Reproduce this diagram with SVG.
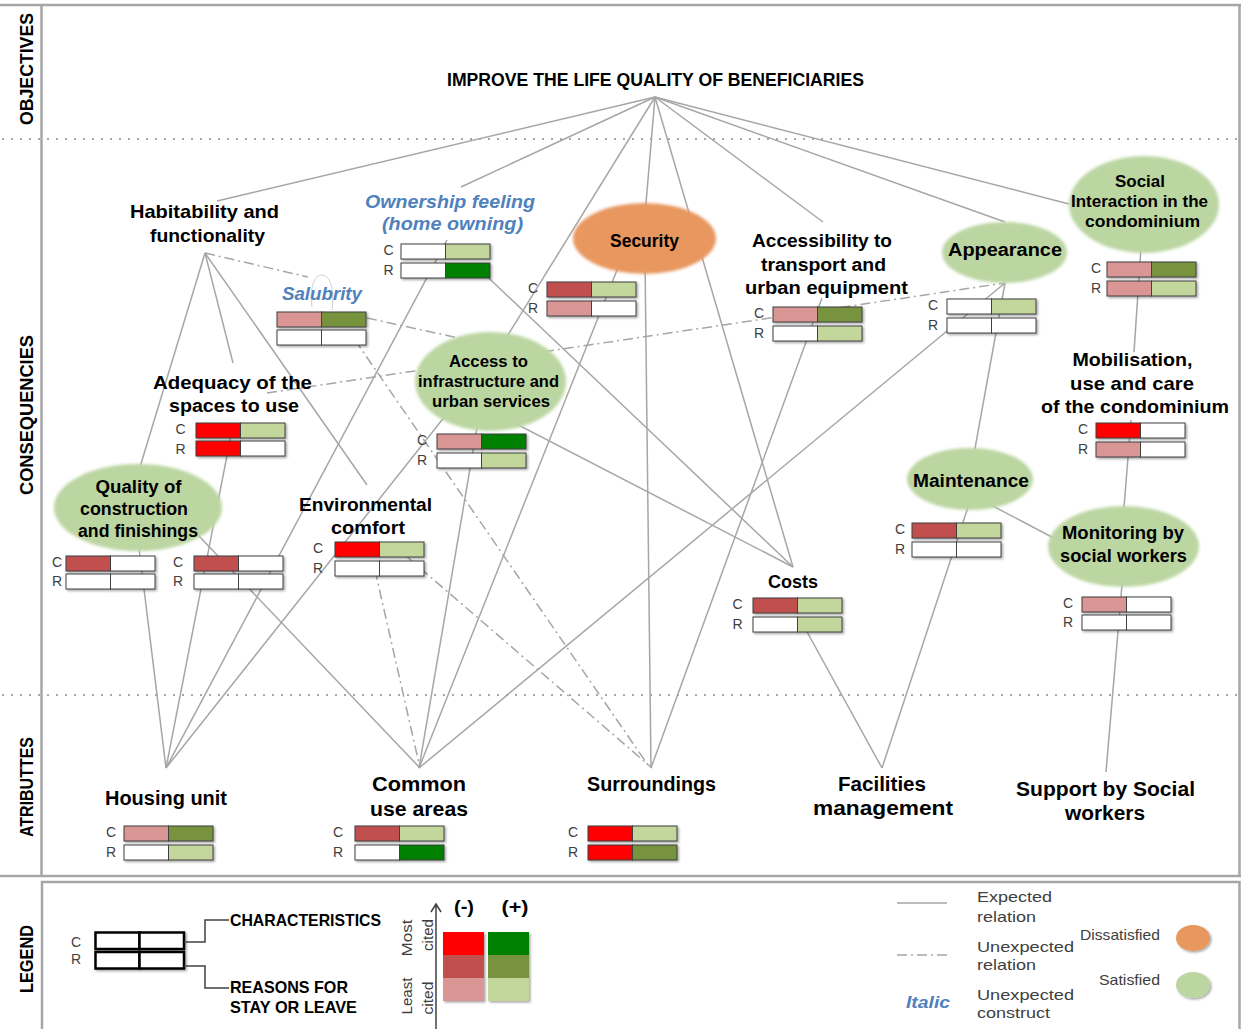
<svg xmlns="http://www.w3.org/2000/svg" width="1241" height="1029" viewBox="0 0 1241 1029">
<defs>
<style>
.fr{stroke:#a6a6a6;stroke-width:2.5;fill:none}
.dot{stroke:#a6a6a6;stroke-width:2;stroke-dasharray:2 7;fill:none}
.ln{stroke:#a6a6a6;stroke-width:1.5;fill:none}
.dd{stroke:#a6a6a6;stroke-width:1.5;fill:none;stroke-dasharray:10 4 2 4}
.t{font-family:"Liberation Sans",Arial,sans-serif;font-weight:bold;fill:#000;text-anchor:middle}
.it{font-style:italic;fill:#4f81bd}
.sec{font-family:"Liberation Sans",Arial,sans-serif;font-weight:bold;fill:#000;text-anchor:middle;font-size:18px}
.cr{font-family:"Liberation Sans",Arial,sans-serif;font-size:14px;fill:#404040;text-anchor:middle}
.lg-t{font-family:"Liberation Sans",Arial,sans-serif;font-size:15px;fill:#404040}
.c{stroke:#3f3f3f;stroke-width:1}
.r{fill:#ff0000}.dr{fill:#c0504d}.pk{fill:#d99694}.dg{fill:#008000}.ol{fill:#77933c}.lg{fill:#c3d69b}.w{fill:#ffffff}
.eg{fill:#bcd6a2}.eo{fill:#e8975f}
.lb{stroke:#000;stroke-width:2.5;fill:#fff}
.br{stroke:#404040;stroke-width:1.5;fill:none}
</style>
<filter id="sh" x="-10%" y="-20%" width="130%" height="170%"><feDropShadow dx="1.5" dy="1.5" stdDeviation="1" flood-color="#000" flood-opacity="0.35"/></filter>
<filter id="soft" x="-10%" y="-10%" width="120%" height="120%"><feGaussianBlur stdDeviation="1.6"/></filter>
</defs>
<rect width="1241" height="1029" fill="#fff"/>

<g id="frame">
<line class="fr" x1="0" y1="5" x2="1241" y2="5"/>
<line class="fr" x1="0" y1="876" x2="1241" y2="876"/>
<line class="fr" x1="1239.5" y1="5" x2="1239.5" y2="876"/>
<line class="fr" x1="41.5" y1="5" x2="41.5" y2="876"/>
<rect class="fr" x="42" y="882" width="1197.5" height="160"/>
<line class="dot" x1="2" y1="139" x2="1241" y2="139"/>
<line class="dot" x1="2" y1="695" x2="1241" y2="695"/>
<text class="sec" transform="translate(33,69) rotate(-90)" textLength="112" lengthAdjust="spacingAndGlyphs">OBJECTIVES</text>
<text class="sec" transform="translate(33,415) rotate(-90)" textLength="160" lengthAdjust="spacingAndGlyphs">CONSEQUENCIES</text>
<text class="sec" font-size="16" transform="translate(33,787) rotate(-90)" textLength="100" lengthAdjust="spacingAndGlyphs">ATRIBUTTES</text>
<text class="sec" font-size="17" transform="translate(33,959) rotate(-90)" textLength="68" lengthAdjust="spacingAndGlyphs">LEGEND</text>
</g>

<g id="connectors">
<line class="ln" x1="655" y1="97" x2="217" y2="201"/>
<line class="ln" x1="655" y1="97" x2="461" y2="187"/>
<line class="ln" x1="655" y1="97" x2="503" y2="343"/>
<line class="ln" x1="655" y1="97" x2="645" y2="215"/>
<line class="ln" x1="655" y1="97" x2="793" y2="567"/>
<line class="ln" x1="655" y1="97" x2="823" y2="222"/>
<line class="ln" x1="655" y1="97" x2="1005" y2="222"/>
<line class="ln" x1="655" y1="97" x2="1069" y2="204"/>
<line class="ln" x1="205" y1="253" x2="140" y2="467"/>
<line class="ln" x1="205" y1="253" x2="233" y2="363"/>
<line class="ln" x1="205" y1="253" x2="367" y2="485"/>
<line class="ln" x1="447" y1="240" x2="166" y2="768"/>
<line class="ln" x1="475" y1="265" x2="793" y2="567"/>
<line class="ln" x1="503" y1="343" x2="166" y2="768"/>
<line class="ln" x1="480" y1="410" x2="419" y2="768"/>
<line class="ln" x1="505" y1="418" x2="793" y2="567"/>
<line class="ln" x1="645" y1="260" x2="651" y2="768"/>
<line class="ln" x1="625" y1="250" x2="419" y2="768"/>
<line class="ln" x1="822" y1="298" x2="651" y2="768"/>
<line class="ln" x1="1005" y1="283" x2="419" y2="768"/>
<line class="ln" x1="1005" y1="283" x2="972" y2="465"/>
<line class="ln" x1="1142" y1="233" x2="1134" y2="352"/>
<line class="ln" x1="1131" y1="420" x2="1123" y2="520"/>
<line class="ln" x1="972" y1="495" x2="1063" y2="543"/>
<line class="ln" x1="972" y1="495" x2="882" y2="768"/>
<line class="ln" x1="806" y1="630" x2="882" y2="768"/>
<line class="ln" x1="1123" y1="573" x2="1106" y2="772"/>
<line class="ln" x1="232" y1="430" x2="166" y2="768"/>
<line class="ln" x1="138" y1="540" x2="166" y2="768"/>
<line class="ln" x1="198" y1="535" x2="420" y2="768"/>
<line class="dd" x1="205" y1="253" x2="308" y2="277"/>
<path fill="none" stroke="#cfcfcf" stroke-width="1" d="M312,307 C309,287 315,275 322,275 C329,275 335,287 332,310"/>
<line class="dd" x1="367" y1="318" x2="477" y2="342"/>
<line class="dd" x1="267" y1="393" x2="1005" y2="283"/>
<line class="dd" x1="355" y1="340" x2="650" y2="768"/>
<line class="dd" x1="375" y1="570" x2="420" y2="768"/>
<line class="dd" x1="405" y1="555" x2="652" y2="768"/>
</g>

<g id="n-title">
<text class="t" x="655.5" y="86" font-size="18" textLength="417" lengthAdjust="spacingAndGlyphs">IMPROVE THE LIFE QUALITY OF BENEFICIARIES</text>
</g>

<g id="n-habitability">
<text class="t" x="204.5" y="218" font-size="18.5" textLength="149" lengthAdjust="spacingAndGlyphs">Habitability and</text>
<text class="t" x="207.5" y="242" font-size="18.5" textLength="115" lengthAdjust="spacingAndGlyphs">functionality</text>
</g>

<g id="n-ownership">
<text class="t it" x="450" y="208" font-size="18.5" textLength="170" lengthAdjust="spacingAndGlyphs">Ownership feeling</text>
<text class="t it" x="452.5" y="230" font-size="18.5" textLength="141" lengthAdjust="spacingAndGlyphs">(home owning)</text>
<g transform="translate(401,244)"><g filter="url(#sh)"><rect class="c w" width="44.5" height="15"/><rect class="c lg" x="44.5" width="44.5" height="15"/><rect class="c w" y="19" width="44.5" height="15"/><rect class="c dg" x="44.5" y="19" width="44.5" height="15"/></g><text class="cr" x="-12.5" y="11">C</text><text class="cr" x="-12.5" y="31">R</text></g>
</g>

<g id="n-salubrity">
<text class="t it" x="322" y="300" font-size="18.5" textLength="80" lengthAdjust="spacingAndGlyphs">Salubrity</text>
<g transform="translate(277,312)"><g filter="url(#sh)"><rect class="c pk" width="44.5" height="15"/><rect class="c ol" x="44.5" width="44.5" height="15"/><rect class="c w" y="18" width="44.5" height="15"/><rect class="c w" x="44.5" y="18" width="44.5" height="15"/></g></g>
</g>

<g id="n-security">
<ellipse class="eo" cx="644.5" cy="238.5" rx="71.5" ry="35.5" filter="url(#soft)"/>
<text class="t" x="644.5" y="247" font-size="18.5" textLength="69" lengthAdjust="spacingAndGlyphs">Security</text>
<g transform="translate(547,282)"><g filter="url(#sh)"><rect class="c dr" width="44.5" height="15"/><rect class="c lg" x="44.5" width="44.5" height="15"/><rect class="c pk" y="19" width="44.5" height="15"/><rect class="c w" x="44.5" y="19" width="44.5" height="15"/></g><text class="cr" x="-14" y="11">C</text><text class="cr" x="-14" y="31">R</text></g>
</g>

<g id="n-accessibility">
<text class="t" x="822" y="247" font-size="17.5" textLength="140" lengthAdjust="spacingAndGlyphs">Accessibility to</text>
<text class="t" x="823.5" y="271" font-size="17.5" textLength="125" lengthAdjust="spacingAndGlyphs">transport and</text>
<text class="t" x="826.5" y="294" font-size="17.5" textLength="163" lengthAdjust="spacingAndGlyphs">urban equipment</text>
<g transform="translate(773,307)"><g filter="url(#sh)"><rect class="c pk" width="44.5" height="15"/><rect class="c ol" x="44.5" width="44.5" height="15"/><rect class="c w" y="19" width="44.5" height="15"/><rect class="c lg" x="44.5" y="19" width="44.5" height="15"/></g><text class="cr" x="-14" y="11">C</text><text class="cr" x="-14" y="31">R</text></g>
</g>

<g id="n-appearance">
<ellipse class="eg" cx="1004.5" cy="252.5" rx="62.5" ry="30.5" filter="url(#soft)"/>
<text class="t" x="1005" y="256" font-size="17.5" textLength="114" lengthAdjust="spacingAndGlyphs">Appearance</text>
<g transform="translate(947,299)"><g filter="url(#sh)"><rect class="c w" width="44.5" height="15"/><rect class="c lg" x="44.5" width="44.5" height="15"/><rect class="c w" y="19" width="44.5" height="15"/><rect class="c w" x="44.5" y="19" width="44.5" height="15"/></g><text class="cr" x="-14" y="11">C</text><text class="cr" x="-14" y="31">R</text></g>
</g>

<g id="n-social">
<ellipse class="eg" cx="1144" cy="204.5" rx="75" ry="48.5" filter="url(#soft)"/>
<text class="t" x="1140" y="187" font-size="17" textLength="50" lengthAdjust="spacingAndGlyphs">Social</text>
<text class="t" x="1139.5" y="207" font-size="17" textLength="137" lengthAdjust="spacingAndGlyphs">Interaction in the</text>
<text class="t" x="1142.5" y="227" font-size="17" textLength="115" lengthAdjust="spacingAndGlyphs">condominium</text>
<g transform="translate(1107,262)"><g filter="url(#sh)"><rect class="c pk" width="44.5" height="15"/><rect class="c ol" x="44.5" width="44.5" height="15"/><rect class="c pk" y="19" width="44.5" height="15"/><rect class="c lg" x="44.5" y="19" width="44.5" height="15"/></g><text class="cr" x="-11" y="11">C</text><text class="cr" x="-11" y="31">R</text></g>
</g>

<g id="n-mobilisation">
<text class="t" x="1132.5" y="366" font-size="19" textLength="120" lengthAdjust="spacingAndGlyphs">Mobilisation,</text>
<text class="t" x="1132" y="390" font-size="19" textLength="124" lengthAdjust="spacingAndGlyphs">use and care</text>
<text class="t" x="1135" y="413" font-size="19" textLength="188" lengthAdjust="spacingAndGlyphs">of the condominium</text>
<g transform="translate(1096,423)"><g filter="url(#sh)"><rect class="c r" width="44.5" height="15"/><rect class="c w" x="44.5" width="44.5" height="15"/><rect class="c pk" y="19" width="44.5" height="15"/><rect class="c w" x="44.5" y="19" width="44.5" height="15"/></g><text class="cr" x="-13" y="11">C</text><text class="cr" x="-13" y="31">R</text></g>
</g>

<g id="n-access">
<ellipse class="eg" cx="490.5" cy="381.5" rx="75.5" ry="49.5" filter="url(#soft)"/>
<text class="t" x="488.5" y="367" font-size="16" textLength="79" lengthAdjust="spacingAndGlyphs">Access to</text>
<text class="t" x="488.5" y="387" font-size="16" textLength="141" lengthAdjust="spacingAndGlyphs">infrastructure and</text>
<text class="t" x="491" y="407" font-size="16" textLength="118" lengthAdjust="spacingAndGlyphs">urban services</text>
<g transform="translate(437,434)"><g filter="url(#sh)"><rect class="c pk" width="44.5" height="15"/><rect class="c dg" x="44.5" width="44.5" height="15"/><rect class="c w" y="19" width="44.5" height="15"/><rect class="c lg" x="44.5" y="19" width="44.5" height="15"/></g><text class="cr" x="-15" y="11">C</text><text class="cr" x="-15" y="31">R</text></g>
</g>

<g id="n-adequacy">
<text class="t" x="232.5" y="389" font-size="17.5" textLength="159" lengthAdjust="spacingAndGlyphs">Adequacy of the</text>
<text class="t" x="234" y="412" font-size="17.5" textLength="130" lengthAdjust="spacingAndGlyphs">spaces to use</text>
<g transform="translate(196,423)"><g filter="url(#sh)"><rect class="c r" width="44.5" height="15"/><rect class="c lg" x="44.5" width="44.5" height="15"/><rect class="c r" y="18" width="44.5" height="15"/><rect class="c w" x="44.5" y="18" width="44.5" height="15"/></g><text class="cr" x="-15.5" y="11">C</text><text class="cr" x="-15.5" y="31">R</text></g>
</g>

<g id="n-quality">
<ellipse class="eg" cx="138" cy="507.5" rx="84" ry="43.5" filter="url(#soft)"/>
<text class="t" x="138.5" y="493" font-size="18" textLength="86" lengthAdjust="spacingAndGlyphs">Quality of</text>
<text class="t" x="134" y="515" font-size="18" textLength="108" lengthAdjust="spacingAndGlyphs">construction</text>
<text class="t" x="138" y="537" font-size="18" textLength="120" lengthAdjust="spacingAndGlyphs">and finishings</text>
<g transform="translate(66,556)"><g filter="url(#sh)"><rect class="c dr" width="44.5" height="15"/><rect class="c w" x="44.5" width="44.5" height="15"/><rect class="c w" y="18" width="44.5" height="15"/><rect class="c w" x="44.5" y="18" width="44.5" height="15"/></g><text class="cr" x="-9" y="11">C</text><text class="cr" x="-9" y="30">R</text></g>
<g transform="translate(194,556)"><g filter="url(#sh)"><rect class="c dr" width="44.5" height="15"/><rect class="c w" x="44.5" width="44.5" height="15"/><rect class="c w" y="18" width="44.5" height="15"/><rect class="c w" x="44.5" y="18" width="44.5" height="15"/></g><text class="cr" x="-16" y="11">C</text><text class="cr" x="-16" y="30">R</text></g>
</g>

<g id="n-environmental">
<text class="t" x="365.5" y="511" font-size="17.5" textLength="133" lengthAdjust="spacingAndGlyphs">Environmental</text>
<text class="t" x="368" y="534" font-size="17.5" textLength="74" lengthAdjust="spacingAndGlyphs">comfort</text>
<g transform="translate(335,542)"><g filter="url(#sh)"><rect class="c r" width="44.5" height="15"/><rect class="c lg" x="44.5" width="44.5" height="15"/><rect class="c w" y="19" width="44.5" height="15"/><rect class="c w" x="44.5" y="19" width="44.5" height="15"/></g><text class="cr" x="-17" y="11">C</text><text class="cr" x="-17" y="31">R</text></g>
</g>

<g id="n-costs">
<text class="t" x="793" y="588" font-size="18.5" textLength="50" lengthAdjust="spacingAndGlyphs">Costs</text>
<g transform="translate(753,598)"><g filter="url(#sh)"><rect class="c dr" width="44.5" height="15"/><rect class="c lg" x="44.5" width="44.5" height="15"/><rect class="c w" y="19" width="44.5" height="15"/><rect class="c lg" x="44.5" y="19" width="44.5" height="15"/></g><text class="cr" x="-15.5" y="11">C</text><text class="cr" x="-15.5" y="31">R</text></g>
</g>

<g id="n-maintenance">
<ellipse class="eg" cx="970" cy="479" rx="63" ry="31" filter="url(#soft)"/>
<text class="t" x="971" y="487" font-size="18" textLength="116" lengthAdjust="spacingAndGlyphs">Maintenance</text>
<g transform="translate(912,523)"><g filter="url(#sh)"><rect class="c dr" width="44.5" height="15"/><rect class="c lg" x="44.5" width="44.5" height="15"/><rect class="c w" y="19" width="44.5" height="15"/><rect class="c w" x="44.5" y="19" width="44.5" height="15"/></g><text class="cr" x="-12" y="11">C</text><text class="cr" x="-12" y="31">R</text></g>
</g>

<g id="n-monitoring">
<ellipse class="eg" cx="1123.5" cy="546.5" rx="75.5" ry="40.5" filter="url(#soft)"/>
<text class="t" x="1123" y="539" font-size="17.5" textLength="122" lengthAdjust="spacingAndGlyphs">Monitoring by</text>
<text class="t" x="1123.5" y="562" font-size="17.5" textLength="127" lengthAdjust="spacingAndGlyphs">social workers</text>
<g transform="translate(1082,597)"><g filter="url(#sh)"><rect class="c pk" width="44.5" height="15"/><rect class="c w" x="44.5" width="44.5" height="15"/><rect class="c w" y="18" width="44.5" height="15"/><rect class="c w" x="44.5" y="18" width="44.5" height="15"/></g><text class="cr" x="-14" y="11">C</text><text class="cr" x="-14" y="30">R</text></g>
</g>

<g id="n-housing">
<text class="t" x="166" y="805" font-size="20" textLength="122" lengthAdjust="spacingAndGlyphs">Housing unit</text>
<g transform="translate(124,826)"><g filter="url(#sh)"><rect class="c pk" width="44.5" height="15"/><rect class="c ol" x="44.5" width="44.5" height="15"/><rect class="c w" y="19" width="44.5" height="15"/><rect class="c lg" x="44.5" y="19" width="44.5" height="15"/></g><text class="cr" x="-13" y="11">C</text><text class="cr" x="-13" y="31">R</text></g>
</g>

<g id="n-common">
<text class="t" x="419" y="791" font-size="20" textLength="94" lengthAdjust="spacingAndGlyphs">Common</text>
<text class="t" x="419" y="816" font-size="20" textLength="98" lengthAdjust="spacingAndGlyphs">use areas</text>
<g transform="translate(355,826)"><g filter="url(#sh)"><rect class="c dr" width="44.5" height="15"/><rect class="c lg" x="44.5" width="44.5" height="15"/><rect class="c w" y="19" width="44.5" height="15"/><rect class="c dg" x="44.5" y="19" width="44.5" height="15"/></g><text class="cr" x="-17" y="11">C</text><text class="cr" x="-17" y="31">R</text></g>
</g>

<g id="n-surroundings">
<text class="t" x="651.5" y="791" font-size="20" textLength="129" lengthAdjust="spacingAndGlyphs">Surroundings</text>
<g transform="translate(588,826)"><g filter="url(#sh)"><rect class="c r" width="44.5" height="15"/><rect class="c lg" x="44.5" width="44.5" height="15"/><rect class="c r" y="19" width="44.5" height="15"/><rect class="c ol" x="44.5" y="19" width="44.5" height="15"/></g><text class="cr" x="-15" y="11">C</text><text class="cr" x="-15" y="31">R</text></g>
</g>

<g id="n-facilities">
<text class="t" x="882" y="791" font-size="20" textLength="88" lengthAdjust="spacingAndGlyphs">Facilities</text>
<text class="t" x="883" y="815" font-size="20" textLength="140" lengthAdjust="spacingAndGlyphs">management</text>
</g>

<g id="n-support">
<text class="t" x="1105.5" y="796" font-size="20" textLength="179" lengthAdjust="spacingAndGlyphs">Support by Social</text>
<text class="t" x="1105" y="820" font-size="20" textLength="80" lengthAdjust="spacingAndGlyphs">workers</text>
</g>

<g id="legend">
<text class="cr" x="76" y="947">C</text>
<text class="cr" x="76" y="964">R</text>
<g filter="url(#sh)">
<rect class="lb" x="95.5" y="932.5" width="44" height="16.5"/><rect class="lb" x="139.5" y="932.5" width="44.5" height="16.5"/>
<rect class="lb" x="95.5" y="952" width="44" height="16.5"/><rect class="lb" x="139.5" y="952" width="44.5" height="16.5"/>
</g>
<path class="br" d="M184,942 H205 V920 H229"/>
<path class="br" d="M184,966 H205 V988 H229"/>
<text class="t" style="text-anchor:start" x="230" y="926" font-size="16.5" textLength="151" lengthAdjust="spacingAndGlyphs">CHARACTERISTICS</text>
<text class="t" style="text-anchor:start" x="230" y="993" font-size="16.5" textLength="118" lengthAdjust="spacingAndGlyphs">REASONS FOR</text>
<text class="t" style="text-anchor:start" x="230" y="1013" font-size="16.5" textLength="127" lengthAdjust="spacingAndGlyphs">STAY OR LEAVE</text>
<text class="lg-t" text-anchor="middle" transform="translate(412,938) rotate(-90)" textLength="37" lengthAdjust="spacingAndGlyphs">Most</text>
<text class="lg-t" text-anchor="middle" transform="translate(433,935) rotate(-90)" textLength="32" lengthAdjust="spacingAndGlyphs">cited</text>
<text class="lg-t" text-anchor="middle" transform="translate(412,996) rotate(-90)" textLength="37" lengthAdjust="spacingAndGlyphs">Least</text>
<text class="lg-t" text-anchor="middle" transform="translate(433,998) rotate(-90)" textLength="33" lengthAdjust="spacingAndGlyphs">cited</text>
<path class="br" d="M436,1029 V905 M431,912 L436,904 L441,912"/>
<text class="t" x="464" y="913" font-size="18" textLength="20" lengthAdjust="spacingAndGlyphs">(-)</text>
<text class="t" x="515" y="913" font-size="18" textLength="27" lengthAdjust="spacingAndGlyphs">(+)</text>
<g filter="url(#sh)">
<rect class="r" x="443" y="932" width="41" height="23"/><rect class="dg" x="488" y="932" width="41" height="23"/>
<rect class="dr" x="443" y="955" width="41" height="23"/><rect class="ol" x="488" y="955" width="41" height="23"/>
<rect class="pk" x="443" y="978" width="41" height="23"/><rect class="lg" x="488" y="978" width="41" height="23"/>
</g>
<line class="ln" x1="897" y1="903" x2="947" y2="903"/>
<line class="dd" x1="897" y1="955" x2="947" y2="955"/>
<text class="lg-t" x="977" y="902" textLength="75" lengthAdjust="spacingAndGlyphs">Expected</text>
<text class="lg-t" x="977" y="922" textLength="59" lengthAdjust="spacingAndGlyphs">relation</text>
<text class="lg-t" x="977" y="952" textLength="97" lengthAdjust="spacingAndGlyphs">Unexpected</text>
<text class="lg-t" x="977" y="970" textLength="59" lengthAdjust="spacingAndGlyphs">relation</text>
<text class="t it" style="text-anchor:start" x="906" y="1008" font-size="17" textLength="44" lengthAdjust="spacingAndGlyphs">Italic</text>
<text class="lg-t" x="977" y="1000" textLength="97" lengthAdjust="spacingAndGlyphs">Unexpected</text>
<text class="lg-t" x="977" y="1018" textLength="73" lengthAdjust="spacingAndGlyphs">construct</text>
<text class="lg-t" x="1080" y="940" textLength="80" lengthAdjust="spacingAndGlyphs">Dissatisfied</text>
<text class="lg-t" x="1099" y="985" textLength="61" lengthAdjust="spacingAndGlyphs">Satisfied</text>
<ellipse class="eo" cx="1193" cy="938" rx="17" ry="13" filter="url(#sh)"/>
<ellipse class="eg" cx="1193" cy="985" rx="17" ry="13" filter="url(#sh)"/>
</g>
</svg>
